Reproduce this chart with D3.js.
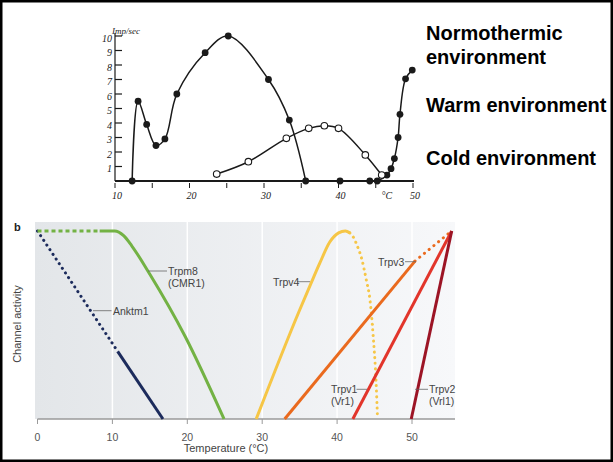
<!DOCTYPE html>
<html>
<head>
<meta charset="utf-8">
<script src="https://cdn.jsdelivr.net/npm/d3@7"></script>
<style>
  html, body { margin: 0; padding: 0; background: #fff; }
  svg { display: block; font-family: "Liberation Sans", Arial, sans-serif; }
</style>
</head>
<body>
<script>
// ---- panel a: impulse frequency vs temperature ----
const coldTemp = [12.3, 13.1, 14.25, 15.5, 16.7, 18.3, 22.1, 25.2, 30.6, 33.4, 35.6];
const coldRate = [0, 5.5, 3.9, 2.45, 2.9, 6.0, 8.85, 10.0, 7.0, 4.2, 0];

const openTemp = [23.65, 27.9, 33.0, 36.0, 38.1, 40.0, 43.6, 45.8];
const openRate = [0.48, 1.33, 2.94, 3.63, 3.81, 3.63, 1.8, 0.41];

const warmTemp = [40.2, 44.2, 45.2, 46.5, 47.05, 47.5, 48.0, 48.25, 49.0, 49.9];
const warmRate = [0, 0, 0, 0.41, 0.85, 1.55, 3.0, 4.6, 7.05, 7.65];

const topXTicks = [10, 20, 30, 40, 50];
const topXMinor = [15, 25, 35, 45];
const topYTicks = [1, 2, 3, 4, 5, 6, 7, 8, 9, 10];

const legendLines = ["Normothermic", "environment", "Warm environment", "Cold environment"];

// ---- panel b: channel activity vs temperature ----
const bottomXTicks = [0, 10, 20, 30, 40, 50];

const anktm1Dotted = [[0, 1], [10.7, 0.36]];
const anktm1Solid = [[10.7, 0.36], [16.75, 0]];

const trpm8Dotted = [[0, 1], [8.3, 1]];
const trpm8Solid = [[8.3, 1], [10.3, 1], [11.5, 0.975], [12.6, 0.92], [15, 0.77], [19.7, 0.44], [24.9, 0]];

const trpv4Solid = [[29.2, 0], [35, 0.58], [36.5, 0.72], [37.7, 0.83], [39, 0.94], [40.2, 0.99], [41.1, 1.0], [41.7, 0.99]];
const trpv4Dotted = [[41.7, 0.99], [42.2, 0.965], [42.7, 0.92], [43.3, 0.85], [43.9, 0.74], [44.4, 0.63], [44.8, 0.45], [45.2, 0.2], [45.4, 0]];

const trpv3Solid = [[33, 0], [50.4, 0.84]];
const trpv3Dotted = [[50.4, 0.84], [55.3, 1]];

const trpv1Solid = [[42.1, 0], [55.3, 1]];
const trpv2Solid = [[49.9, 0], [55.3, 1]];

const svg = d3.select("body").append("svg")
  .attr("width", 613)
  .attr("height", 462);

// outer frame
svg.append("rect")
  .attr("x", 1.25).attr("y", 1.25)
  .attr("width", 610.5).attr("height", 459.5)
  .attr("fill", "none").attr("stroke", "#000").attr("stroke-width", 2.5);

// ===== panel a =====
const xTop = d3.scaleLinear().domain([10, 50]).range([115, 413]);
const yTop = d3.scaleLinear().domain([0, 10]).range([181, 36]);
const ink = "#1a1a1a";

const a = svg.append("g");

// axes
a.append("line")
  .attr("x1", xTop(10)).attr("x2", xTop(10))
  .attr("y1", yTop(0)).attr("y2", yTop(10) - 3)
  .attr("stroke", ink).attr("stroke-width", 1.2);
a.append("line")
  .attr("x1", xTop(10)).attr("x2", xTop(50) + 1)
  .attr("y1", yTop(0)).attr("y2", yTop(0))
  .attr("stroke", ink).attr("stroke-width", 2);

a.selectAll(".ytick").data(topYTicks).join("line")
  .attr("x1", xTop(10)).attr("x2", xTop(10) + 7)
  .attr("y1", d => yTop(d)).attr("y2", d => yTop(d))
  .attr("stroke", ink).attr("stroke-width", 1.2);

a.selectAll(".ylab").data(topYTicks).join("text")
  .attr("x", xTop(10) - 3)
  .attr("y", d => yTop(d) + 5.5)
  .attr("text-anchor", "end")
  .attr("font-family", "'Liberation Serif', serif")
  .attr("font-style", "italic")
  .attr("font-size", 10)
  .attr("fill", ink)
  .text(d => d);

a.append("text")
  .attr("x", 112).attr("y", 34)
  .attr("font-family", "'Liberation Serif', serif")
  .attr("font-style", "italic")
  .attr("font-size", 9)
  .attr("fill", ink)
  .text("Imp/sec");

a.selectAll(".xtick").data(topXTicks.concat(topXMinor)).join("line")
  .attr("x1", d => xTop(d)).attr("x2", d => xTop(d))
  .attr("y1", yTop(0) + 2).attr("y2", yTop(0) + 7)
  .attr("stroke", ink).attr("stroke-width", 1);

a.selectAll(".xlab").data(topXTicks).join("text")
  .attr("x", d => xTop(d) + 2)
  .attr("y", 199)
  .attr("text-anchor", "middle")
  .attr("font-family", "'Liberation Serif', serif")
  .attr("font-style", "italic")
  .attr("font-size", 10)
  .attr("fill", ink)
  .text(d => d);

a.append("text")
  .attr("x", xTop(46.5)).attr("y", 199)
  .attr("text-anchor", "middle")
  .attr("font-family", "'Liberation Serif', serif")
  .attr("font-style", "italic")
  .attr("font-size", 10)
  .attr("fill", ink)
  .text("°C");

const topLine = d3.line()
  .x(d => xTop(d[0]))
  .y(d => yTop(d[1]))
  .curve(d3.curveCatmullRom.alpha(0.5));

const coldPts = coldTemp.map((t, i) => [t, coldRate[i]]);
const openPts = openTemp.map((t, i) => [t, openRate[i]]);
const warmPts = warmTemp.map((t, i) => [t, warmRate[i]]);

[coldPts, openPts, warmPts].forEach(pts => {
  a.append("path")
    .datum(pts)
    .attr("d", topLine)
    .attr("fill", "none")
    .attr("stroke", ink)
    .attr("stroke-width", 1.5);
});

a.selectAll(".cold").data(coldPts.concat(warmPts)).join("circle")
  .attr("cx", d => xTop(d[0])).attr("cy", d => yTop(d[1]))
  .attr("r", 3.4).attr("fill", ink);

a.selectAll(".open").data(openPts).join("circle")
  .attr("cx", d => xTop(d[0])).attr("cy", d => yTop(d[1]))
  .attr("r", 3.3).attr("fill", "#fff")
  .attr("stroke", ink).attr("stroke-width", 1.1);

// legend text
const legendY = [40, 64, 112, 165];
svg.selectAll(".legend").data(legendLines).join("text")
  .attr("x", 426)
  .attr("y", (d, i) => legendY[i])
  .attr("font-weight", "bold")
  .attr("font-size", 20)
  .attr("fill", "#000")
  .text(d => d);

// ===== panel b =====
const xB = d3.scaleLinear().domain([0, 50]).range([37.5, 412]);
const yB = d3.scaleLinear().domain([0, 1]).range([419, 231]);
const b = svg.append("g");

const defs = svg.append("defs");
const grad = defs.append("linearGradient").attr("id", "bg")
  .attr("x1", "0").attr("x2", "1").attr("y1", "0").attr("y2", "0");
grad.append("stop").attr("offset", "0").attr("stop-color", "#e3e6e9");
grad.append("stop").attr("offset", "1").attr("stop-color", "#f7f8fa");

b.append("rect")
  .attr("x", 35).attr("y", 222)
  .attr("width", 420).attr("height", 197)
  .attr("fill", "url(#bg)");

b.selectAll(".grid").data(bottomXTicks.slice(1)).join("line")
  .attr("x1", d => xB(d)).attr("x2", d => xB(d))
  .attr("y1", 222).attr("y2", 419)
  .attr("stroke", "#fff").attr("stroke-width", 1.5);

b.append("line")
  .attr("x1", xB(0)).attr("x2", 455)
  .attr("y1", 419).attr("y2", 419)
  .attr("stroke", "#9a9a9a").attr("stroke-width", 1.5);

b.selectAll(".btick").data(bottomXTicks).join("line")
  .attr("x1", d => xB(d)).attr("x2", d => xB(d))
  .attr("y1", 419).attr("y2", 424)
  .attr("stroke", "#9a9a9a").attr("stroke-width", 1);

b.selectAll(".blab").data(bottomXTicks).join("text")
  .attr("x", d => xB(d))
  .attr("y", 441)
  .attr("text-anchor", "middle")
  .attr("font-size", 10.5)
  .attr("fill", "#555")
  .text(d => d);

b.append("text")
  .attr("x", 226).attr("y", 452)
  .attr("text-anchor", "middle")
  .attr("font-size", 11)
  .attr("fill", "#444")
  .text("Temperature (°C)");

b.append("text")
  .attr("transform", "translate(21,324) rotate(-90)")
  .attr("text-anchor", "middle")
  .attr("font-size", 11)
  .attr("fill", "#444")
  .text("Channel activity");

b.append("text")
  .attr("x", 14).attr("y", 231)
  .attr("font-weight", "bold")
  .attr("font-size", 11)
  .attr("fill", "#222")
  .text("b");

const bLine = d3.line()
  .x(d => xB(d[0]))
  .y(d => yB(d[1]))
  .curve(d3.curveMonotoneX);

const curves = [
  { pts: anktm1Dotted, color: "#1c2b5c", dash: "0.1,5.5", cap: "round" },
  { pts: anktm1Solid, color: "#1c2b5c" },
  { pts: trpm8Dotted, color: "#73b244", dash: "4,3", cap: "butt" },
  { pts: trpm8Solid, color: "#73b244" },
  { pts: trpv4Solid, color: "#f6c646" },
  { pts: trpv4Dotted, color: "#f6c646", dash: "0.1,5.5", cap: "round" },
  { pts: trpv3Solid, color: "#ea6a1e" },
  { pts: trpv3Dotted, color: "#ea6a1e", dash: "0.1,6", cap: "round" },
  { pts: trpv1Solid, color: "#e2352b" },
  { pts: trpv2Solid, color: "#9c1425" }
];

curves.forEach(c => {
  b.append("path")
    .datum(c.pts)
    .attr("d", bLine)
    .attr("fill", "none")
    .attr("stroke", c.color)
    .attr("stroke-width", 3)
    .attr("stroke-linecap", c.cap || "butt")
    .attr("stroke-dasharray", c.dash || null);
});

// curve labels with leader lines
const labels = [
  { lines: ["Anktm1"], x: 113, y: 314.5, lead: [93, 111.5, 310.7] },
  { lines: ["Trpm8", "(CMR1)"], x: 168, y: 275, lead: [148, 167, 271] },
  { lines: ["Trpv4"], x: 273, y: 285.5, lead: [297, 310, 281.7] },
  { lines: ["Trpv3"], x: 378, y: 265.5, lead: [405, 416, 261.7] },
  { lines: ["Trpv1", "(Vr1)"], x: 331, y: 393, lead: [356.5, 367, 389.3] },
  { lines: ["Trpv2", "(Vrl1)"], x: 429, y: 393, lead: [415, 428, 389.3] }
];

labels.forEach(l => {
  b.append("line")
    .attr("x1", l.lead[0]).attr("x2", l.lead[1])
    .attr("y1", l.lead[2]).attr("y2", l.lead[2])
    .attr("stroke", "#666").attr("stroke-width", 0.8);
  const t = b.append("text")
    .attr("x", l.x).attr("y", l.y)
    .attr("font-size", 10.5)
    .attr("fill", "#444");
  l.lines.forEach((s, i) => {
    t.append("tspan").attr("x", l.x).attr("dy", i === 0 ? 0 : 12).text(s);
  });
});
</script>
</body>
</html>
